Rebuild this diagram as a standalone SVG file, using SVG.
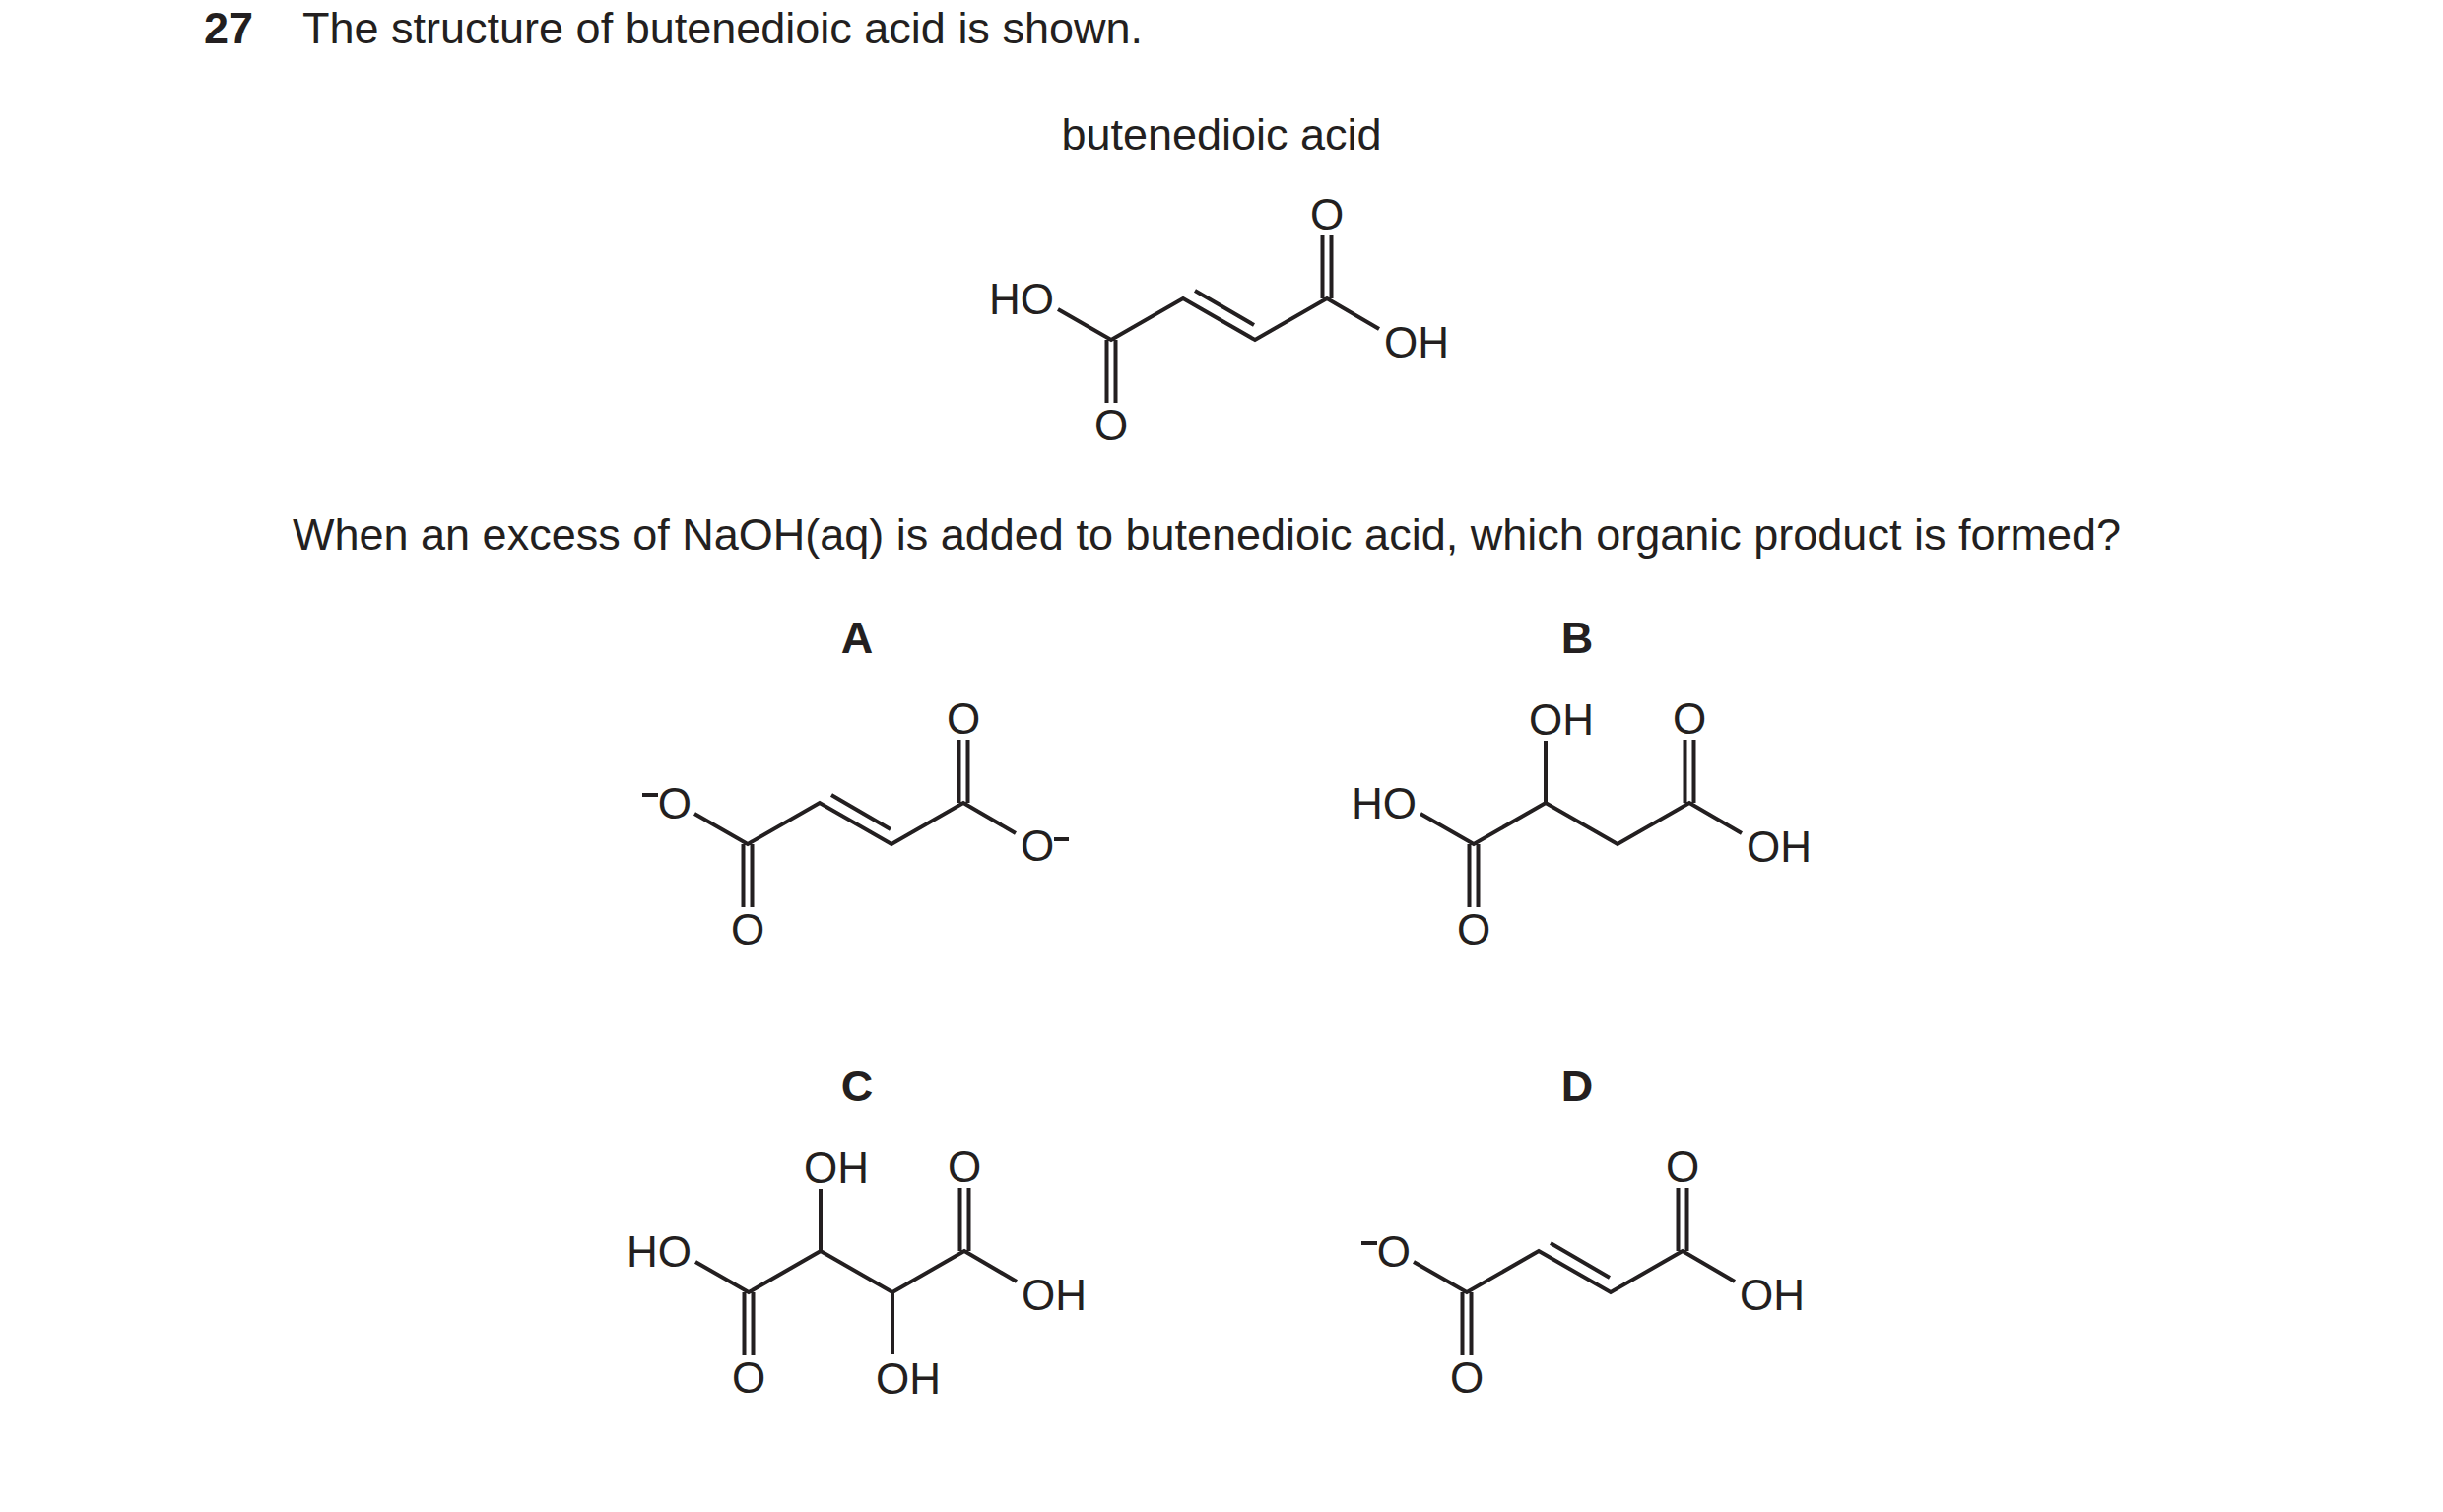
<svg xmlns="http://www.w3.org/2000/svg" width="2480" height="1535" viewBox="0 0 2480 1535">
<style>
text{font-family:"Liberation Sans",Arial,sans-serif;fill:#231f20}
.q{font-size:45px}
.b{font-weight:bold}
.at{font-size:44px}
.bd{fill:none;stroke:#231f20;stroke-width:4;stroke-linejoin:miter;stroke-linecap:butt}
</style>
<rect width="2480" height="1535" fill="#fff"/>
<g id="texts">
<text class="q b" x="207" y="44">27</text>
<text class="q" x="307" y="44">The structure of butenedioic acid is shown.</text>
<text class="q" x="1240" y="152" text-anchor="middle">butenedioic acid</text>
<text class="q" x="297" y="558">When an excess of NaOH(aq) is added to butenedioic acid, which organic product is formed?</text>
<text class="q b" x="870" y="663" text-anchor="middle">A</text>
<text class="q b" x="1601" y="663" text-anchor="middle">B</text>
<text class="q b" x="870" y="1118" text-anchor="middle">C</text>
<text class="q b" x="1601" y="1118" text-anchor="middle">D</text>
</g>
<g id="butenedioic" transform="translate(1128,345)">
<path class="bd" d="M-54,-31 L0,0 L73,-42 L146,0 L219,-42 L272,-11 M85,-50 L145,-15 M214.5,-42 V-106 M223.5,-42 V-106 M-4.5,0 V64 M4.5,0 V64"/>
<text class="at" x="-58" y="-26" text-anchor="end">HO</text>
<text class="at" x="277" y="18">OH</text>
<text class="at" x="219" y="-112" text-anchor="middle">O</text>
<text class="at" x="0" y="102" text-anchor="middle">O</text>
</g>
<g id="A" transform="translate(759,857)">
<path class="bd" d="M-54,-31 L0,0 L73,-42 L146,0 L219,-42 L272,-11 M85,-50 L145,-15 M214.5,-42 V-106 M223.5,-42 V-106 M-4.5,0 V64 M4.5,0 V64"/>
<text class="at" x="-57" y="-26" text-anchor="end">O</text>
<path class="bd" d="M-107,-50 H-91"/>
<text class="at" x="277" y="17">O</text>
<path class="bd" d="M311,-5 H326"/>
<text class="at" x="219" y="-112" text-anchor="middle">O</text>
<text class="at" x="0" y="102" text-anchor="middle">O</text>
</g>
<g id="B" transform="translate(1496,857)">
<path class="bd" d="M-54,-31 L0,0 L73,-42 L146,0 L219,-42 L272,-11 M73,-42 V-105 M214.5,-42 V-106 M223.5,-42 V-106 M-4.5,0 V64 M4.5,0 V64"/>
<text class="at" x="-58" y="-26" text-anchor="end">HO</text>
<text class="at" x="277" y="18">OH</text>
<text class="at" x="89" y="-111" text-anchor="middle">OH</text>
<text class="at" x="219" y="-112" text-anchor="middle">O</text>
<text class="at" x="0" y="102" text-anchor="middle">O</text>
</g>
<g id="C" transform="translate(760,1312)">
<path class="bd" d="M-54,-31 L0,0 L73,-42 L146,0 L219,-42 L272,-11 M73,-42 V-105 M146,0 V63 M214.5,-42 V-106 M223.5,-42 V-106 M-4.5,0 V64 M4.5,0 V64"/>
<text class="at" x="-58" y="-26" text-anchor="end">HO</text>
<text class="at" x="277" y="18">OH</text>
<text class="at" x="89" y="-111" text-anchor="middle">OH</text>
<text class="at" x="162" y="103" text-anchor="middle">OH</text>
<text class="at" x="219" y="-112" text-anchor="middle">O</text>
<text class="at" x="0" y="102" text-anchor="middle">O</text>
</g>
<g id="D" transform="translate(1489,1312)">
<path class="bd" d="M-54,-31 L0,0 L73,-42 L146,0 L219,-42 L272,-11 M85,-50 L145,-15 M214.5,-42 V-106 M223.5,-42 V-106 M-4.5,0 V64 M4.5,0 V64"/>
<text class="at" x="-57" y="-26" text-anchor="end">O</text>
<path class="bd" d="M-107,-50 H-91"/>
<text class="at" x="277" y="18">OH</text>
<text class="at" x="219" y="-112" text-anchor="middle">O</text>
<text class="at" x="0" y="102" text-anchor="middle">O</text>
</g>
<g id="connectors"/>
</svg>
